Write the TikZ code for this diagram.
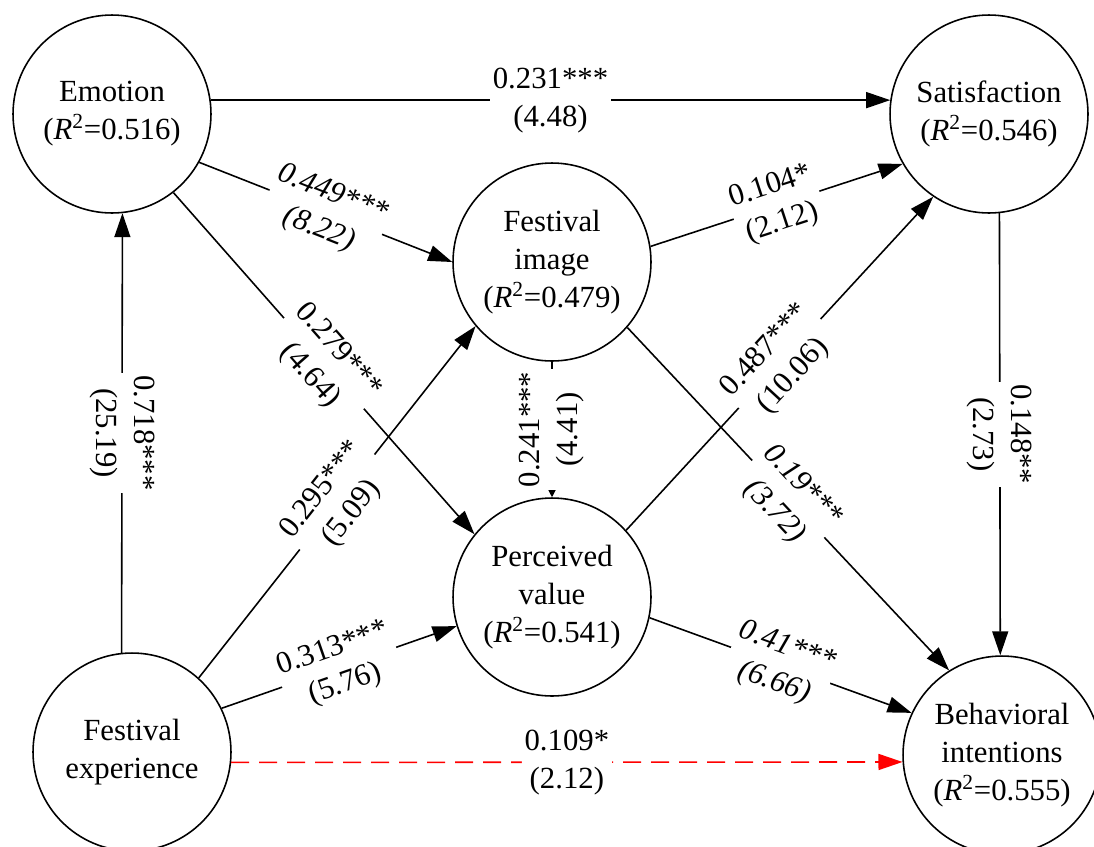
\documentclass[tikz,border=0pt]{standalone}
\usepackage{fontspec}
\setmainfont{Liberation Serif}
\usetikzlibrary{arrows.meta}
\newcommand{\pathfont}{\fontsize{17.5}{21.6}\selectfont}
\newcommand{\rsq}[1]{(\textit{R}\textsuperscript{2}=#1)}

\begin{document}
\begin{tikzpicture}[x=0.02cm, y=-0.02cm, ->, >={Triangle[length=0.48cm,width=0.32cm]},
        line width=0.9pt, font=\pathfont,
        every circle node/.append style={draw, minimum size=3.96cm, inner sep=0pt, align=center}]
      \tikzstyle{coef} = [midway, sloped, fill=white, inner sep=1.5pt, align=center, font=\pathfont]
      \tikzstyle{coefit} = [coef, font=\pathfont\itshape]
      \tikzstyle{coefv} = [midway, fill=white, inner sep=1.5pt, align=center, font=\pathfont]
      \useasboundingbox (0,0) rectangle (1094,846);
      \node (Emotion) [circle] at (112,114) {Emotion\\\rsq{0.516}};
      \node (Satis) [circle] at (989,114) {Satisfaction\\\rsq{0.546}};
      \node (FestImage) [circle] at (552,262) {Festival\\image\\\rsq{0.479}};
      \node (PercValue) [circle] at (552,597) {Perceived\\value\\\rsq{0.541}};
      \node (FestExp) [circle] at (132,752) {Festival\\experience};
      \node (Behav) [circle] at (1002,755) {Behavioral\\intentions\\\rsq{0.555}};
      \draw (Emotion.8) -- node[coef] {0.231***\\(4.48)} (Satis.172);
      \draw (Emotion.-29) -- node[coefit] {0.449***\\(8.22)} (FestImage.west);
      \draw (Emotion.-52) -- node[coef] {0.279***\\(4.64)} (PercValue.141);
      \draw (FestExp.96) -- node[coefv, rotate=-90] {0.718***\\(25.19)} (Emotion.-84);
      \draw (FestExp.48) -- node[coef] {0.295***\\(5.09)} (FestImage.220);
      \draw (FestExp.26) -- node[coef] {0.313***\\(5.76)} (PercValue.197);
      \draw[draw=red, dash pattern=on 0.36cm off 0.2cm] (FestExp.-6) -- node[coef] {0.109*\\(2.12)} (Behav.184);
      \draw[-{Triangle[length=0.24cm,width=0.24cm]}] (FestImage.south) -- node[coefv, rotate=90] {0.241***\\(4.41)} (PercValue.north);
      \draw (FestImage.9) -- node[coef] {0.104*\\(2.12)} (Satis.210);
      \draw (PercValue.42) -- node[coef] {0.487***\\(10.06)} (Satis.236);
      \draw (FestImage.-41) -- node[coefit] {0.19***\\(3.72)} (Behav.122);
      \draw (PercValue.-12) -- node[coefit] {0.41***\\(6.66)} (Behav.155);
      \draw (Satis.-84) -- node[coefv, rotate=-90] {0.148**\\(2.73)} (Behav.91);
    \end{tikzpicture}
\end{document}
